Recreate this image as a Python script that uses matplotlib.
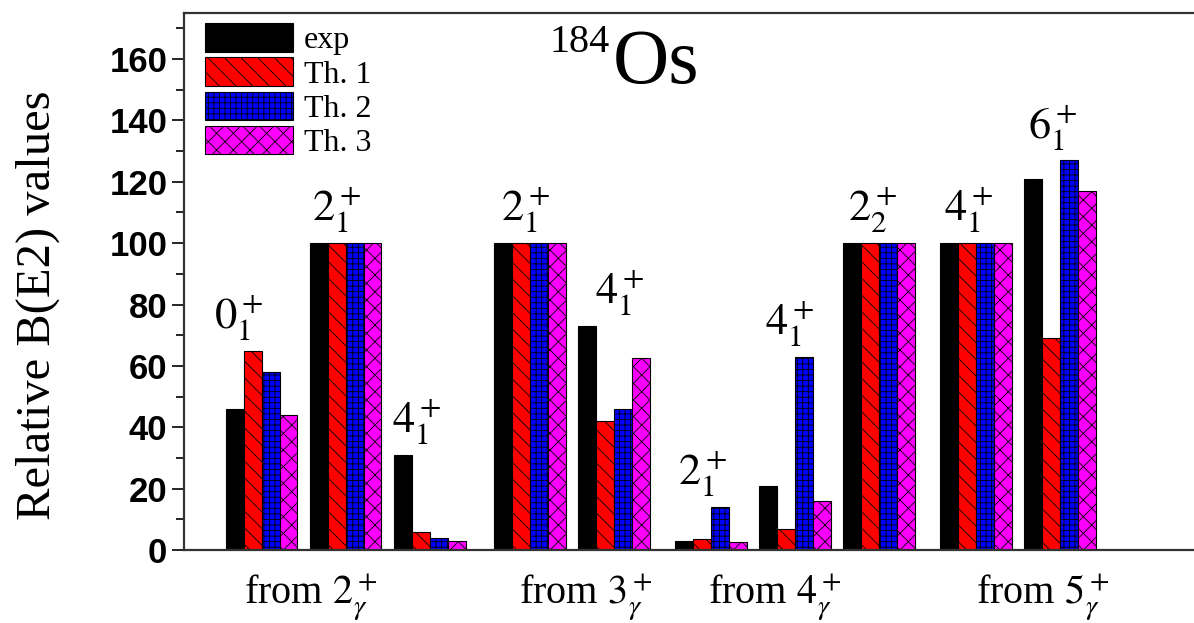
import numpy as np
import matplotlib
matplotlib.use("Agg")
import matplotlib.pyplot as plt

# B(E2) ratios for 184Os, normalised to 100 in each gamma-band decay
series = ["exp", "Th. 1", "Th. 2", "Th. 3"]
finals = [r"$0^+_1$", r"$2^+_1$", r"$4^+_1$",
          r"$2^+_1$", r"$4^+_1$",
          r"$2^+_1$", r"$4^+_1$", r"$2^+_2$",
          r"$4^+_1$", r"$6^+_1$"]
exp_vals = [46, 100, 31, 100, 73, 3, 21, 100, 100, 121]
th1_vals = [65, 100, 6, 100, 42, 3.5, 7, 100, 100, 69]
th2_vals = [58, 100, 4, 100, 46, 14, 63, 100, 100, 127]
th3_vals = [44, 100, 3, 100, 62.5, 2.5, 16, 100, 100, 117]
initials = [r"from $2^+_\gamma$", r"from $3^+_\gamma$", r"from $4^+_\gamma$", r"from $5^+_\gamma$"]
cluster_sizes = [3, 2, 3, 2]

plt.rcParams["mathtext.fontset"] = "stix"
plt.rcParams["font.family"] = ["Liberation Serif", "DejaVu Serif"]
plt.rcParams["hatch.linewidth"] = 0.6

fig = plt.figure(figsize=(11.94, 6.23), dpi=100)
ax = fig.add_axes([184 / 1194, 1 - 550 / 623, 1 - 184 / 1194, (550 - 13) / 623])

# group positions: unit spacing inside a cluster, extra gap between clusters
gaps = [0.0, 0.2, 0.15, 0.15]
pos = []
x = 1.0
for size, g in zip(cluster_sizes, gaps):
    x += g
    for i in range(size):
        pos.append(x)
        x += 1
pos = np.array(pos)

w = 0.214
colors = ["black", "red", "blue", "magenta"]
hatches = [None, "\\\\", "+++", "xx"]
allvals = [exp_vals, th1_vals, th2_vals, th3_vals]
for k in range(4):
    ax.bar(pos + (k - 1.5) * w, allvals[k], w, color=colors[k], hatch=hatches[k],
           edgecolor="black", linewidth=0.8, label=series[k])

# level labels above each group
lab_dx = np.array([-23, -9, -13, -5, 5, -8, -5, -6, -7, -7]) / 84
tops = np.max(np.array(allvals), axis=0)
for i in range(len(pos)):
    ax.text(pos[i] + lab_dx[i], tops[i] + 2.5, finals[i], fontsize=32,
            ha="center", va="bottom")

ax.set_xlim(0.077, 12.1)
ax.set_ylim(0, 175)
ax.set_yticks(np.arange(0, 161, 20))
ax.set_yticks(np.arange(10, 171, 20), minor=True)
for t in ax.get_yticklabels():
    t.set_fontfamily("Liberation Sans")
    t.set_fontweight("bold")
    t.set_fontsize(25)
ax.tick_params(axis="y", which="major", direction="out", length=9, width=1.2, pad=3)
ax.tick_params(axis="y", which="minor", direction="out", length=5.5, width=1.2)

label_pos = [1.58, 4.86, 7.11, 10.3]
ax.set_xticks(label_pos)
ax.set_xticklabels(initials, fontsize=29)
ax.tick_params(axis="x", length=0, pad=15)

ax.set_ylabel("Relative B(E2) values", fontsize=35)
ax.yaxis.set_label_coords(-(184 - 60) / 1010, (550 - 305) / 537)

ax.spines["right"].set_visible(False)
for s in ["left", "top", "bottom"]:
    ax.spines[s].set_linewidth(1.6)
    ax.spines[s].set_color("#333333")

ax.legend(loc="upper left", bbox_to_anchor=(0.0208, 0.981), frameon=False,
          fontsize=23, borderpad=0, borderaxespad=0, handlelength=2.75,
          handleheight=1.0, labelspacing=0.06, handletextpad=0.35)

ax.text(0.4218, 0.927, "184", transform=ax.transAxes, fontsize=29,
        family="Liberation Serif", ha="right", va="baseline")
ax.text(0.4248, 0.8696, "Os", transform=ax.transAxes, fontsize=56,
        family="Liberation Serif", ha="left", va="baseline")

fig.savefig("out.png", dpi=100)
